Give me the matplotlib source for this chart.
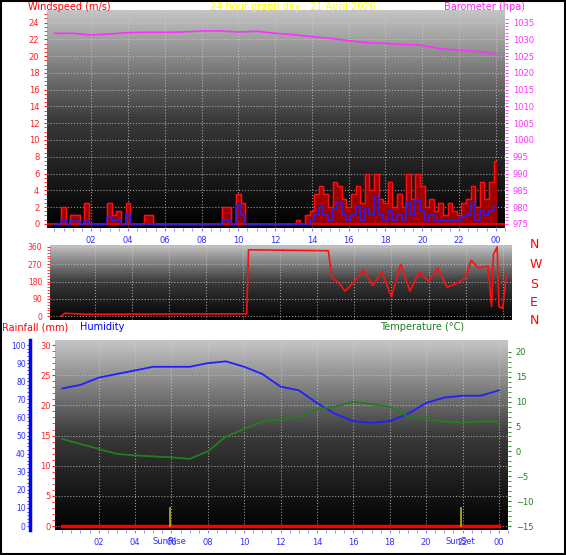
import numpy as np
import matplotlib
matplotlib.use("Agg")
import matplotlib.pyplot as plt
from matplotlib.colors import LinearSegmentedColormap

W, H = 566, 555
# ---------------- data ----------------
wind_t = [i * 0.25 for i in range(97)]
wind_speed = [0, 0, 2, 0, 1, 1, 0, 2.5, 0, 0, 0, 0, 2.5, 1, 1.5, 0, 2.5, 0, 0, 0, 1, 1, 0, 0,
              0, 0, 0, 0, 0, 0, 0, 0, 0, 0, 0, 0, 0, 2, 2, 0, 3.5, 2.5, 0, 0, 0, 0, 0, 0,
              0, 0, 0, 0, 0, 0.5, 0, 1, 1.5, 3.5, 4.5, 3.5, 2, 5, 4.5, 3, 2, 3.5, 4.5, 2.5, 6, 4, 6, 3,
              2.5, 5, 2, 3.5, 2, 6, 3, 6, 4.5, 2, 3, 1.5, 2.5, 1, 2.5, 1.5, 1, 2.5, 3, 4.5, 2, 5, 3, 5, 7.5]
wind_avg = [0, 0, 0.5, 0, 0.3, 0.3, 0, 0.5, 0, 0, 0, 0, 0.8, 0.3, 0.5, 0, 1.2, 0, 0, 0, 0, 0, 0, 0,
            0, 0, 0, 0, 0, 0, 0, 0, 0, 0, 0, 0, 0, 0.5, 0.5, 0, 2.2, 1, 0, 0, 0, 0, 0, 0,
            0, 0, 0, 0, 0, 0, 0, 0, 0.5, 1, 2, 1, 0.5, 1.8, 2.5, 1, 0.5, 1, 2, 0.5, 1.8, 1, 3.2, 1,
            0.5, 1.5, 0.5, 1, 0.5, 2.5, 1, 2.8, 1.5, 0.5, 1, 0.3, 0.5, 0.3, 0.5, 0.3, 0.3, 0.8, 1, 2.5, 0.5, 1.5, 1, 1.5, 2]
hours = list(range(25))
pressure = [1031.8, 1031.8, 1031.3, 1031.6, 1032.0, 1032.1, 1032.1, 1032.2, 1032.5, 1032.5, 1032.2, 1032.4,
            1031.8, 1031.4, 1030.8, 1030.3, 1029.6, 1029.0, 1028.8, 1028.5, 1028.2, 1027.2, 1026.8, 1026.4, 1025.6]
dir_t = [0.2, 0.4, 1.5, 10.2, 10.3, 14.6, 14.8, 15.2, 15.5, 16.0, 16.5, 17.0, 17.5, 18.0, 18.5, 19.0, 19.5,
         20.0, 20.5, 21.0, 21.5, 22.0, 22.3, 22.7, 23.2, 23.4, 23.5, 23.7, 23.8, 24.0, 24.2]
direction = [0, 15, 10, 12, 345, 340, 200, 170, 130, 180, 240, 160, 230, 100, 270, 130, 230,
             180, 250, 150, 170, 200, 290, 250, 260, 50, 320, 360, 50, 40, 220]
humidity = [76, 78, 82, 84, 86, 88, 88, 88, 90, 91, 88, 84, 77, 75, 68, 62, 58, 57, 58, 62, 68, 71, 72, 72, 75]
temperature = [2.5, 1.5, 0.5, -0.5, -0.8, -1.0, -1.2, -1.5, 0.0, 3.0, 4.5, 6.0, 6.5, 7.0, 8.5, 9.0, 10.0,
               9.5, 9.0, 7.0, 6.5, 6.0, 5.8, 6.0, 6.0]
rain = [0] * 25
hour_labels = ["02", "04", "06", "08", "10", "12", "14", "16", "18", "20", "22", "00"]
sunrise, sunset = 5.9, 21.9

# ---------------- helpers ----------------
fig = plt.figure(figsize=(W / 100, H / 100), dpi=100)
fig.patch.set_facecolor("white")
cmap = LinearSegmentedColormap.from_list("g", ["#000000", "#3a3a3a", "#c4c4c4"])

def box(x0, y0, x1, y1):
    return fig.add_axes([x0 / W, 1 - y1 / H, (x1 - x0) / W, (y1 - y0) / H])

def bg(ax):
    ax.imshow(np.linspace(0, 1, 100)[:, None], extent=(0, 1, 0, 1), transform=ax.transAxes,
              cmap=cmap, aspect="auto", origin="lower", zorder=0)
    ax.grid(True, color="#d0d0d0", linestyle=":", linewidth=0.8, alpha=0.7)
    for s in ax.spines.values():
        s.set_visible(False)

def style_x(ax, show, color="#3030ff"):
    ax.set_xticks(range(2, 25, 2))
    ax.set_xticks(np.arange(0, 24.6, 0.5), minor=True)
    if show:
        ax.set_xticklabels(hour_labels, fontsize=6, color=color)
    else:
        ax.set_xticklabels([])
    ax.tick_params(axis="x", length=2, color="#8080ff", which="both")

# frame
fig.add_artist(plt.Rectangle((0.002, 0.002), 0.996, 0.996, transform=fig.transFigure,
                             fill=False, edgecolor="black", linewidth=1.5))

# ---------------- top panel ----------------
ax1 = box(47, 10, 505, 228)
bg(ax1)
ax1.fill_between(wind_t, wind_speed, step="mid", color="#b00000", alpha=0.9, zorder=2)
ax1.step(wind_t, wind_speed, where="mid", color="#ff1010", linewidth=1, zorder=3)
ax1.step(wind_t, wind_avg, where="mid", color="#2020ff", linewidth=1.2, zorder=4)
ax1.axhline(0, color="#e00000", linewidth=1.5, zorder=3)
ax1.set_xlim(-0.4, 24.1)
ax1.set_ylim(-0.5, 25.5)
ax1.set_yticks(range(0, 25, 2))
ax1.set_yticks(np.arange(0, 25.5, 0.5), minor=True)
ax1.tick_params(axis="y", labelsize=6, colors="#ff2020", length=2, which="both")
style_x(ax1, True)
ax1b = ax1.twinx()
ax1b.set_ylim(975 - 1.25, 975 + 25.5 / 0.4)
ax1b.plot(hours, pressure, color="#ff30ff", linewidth=1.2, zorder=5)
ax1b.set_yticks(range(975, 1036, 5))
ax1b.set_yticks(np.arange(975, 1037, 1), minor=True)
ax1b.tick_params(axis="y", labelsize=6, colors="#ff30ff", length=2, which="both")
for s in ax1b.spines.values():
    s.set_visible(False)
fig.text(28 / W, 1 - 7 / H, "Windspeed (m/s)", color="red", fontsize=7, va="center")
fig.text(210 / W, 1 - 7 / H, "24 hour graph day : 21 April 2026", color="yellow", fontsize=7, va="center")
fig.text(525 / W, 1 - 7 / H, "Barometer (hpa)", color="#ff20ff", fontsize=7, va="center", ha="right")

# ---------------- middle panel ----------------
ax2 = box(50, 245, 512, 320)
bg(ax2)
ax2.plot(dir_t, direction, color="#ff1010", linewidth=1.2, zorder=3)
ax2.set_xlim(-0.4, 24.2)
ax2.set_ylim(-20, 370)
ax2.set_yticks([0, 90, 180, 270, 360])
ax2.set_yticks(range(0, 361, 15), minor=True)
ax2.tick_params(axis="y", labelsize=5.5, colors="#ff2020", length=2, which="both")
style_x(ax2, False)
ax2.tick_params(axis="x", length=0, which="both")
for lab, yy in zip(["N", "W", "S", "E", "N"], [245, 265, 284, 302, 320]):
    fig.text(530 / W, 1 - yy / H, lab, color="red", fontsize=9, va="center")

# ---------------- bottom panel ----------------
ax3 = box(55, 340, 508, 530)
bg(ax3)
ax3.set_xlim(-0.4, 24.1)
ax3.set_ylim(-2.2 * 0.3, 102.8 * 0.3)
ax3.plot(hours, rain, color="red", linewidth=2.5, zorder=4)
ax3.set_yticks(range(0, 31, 5))
ax3.set_yticks(np.arange(0, 30.1, 1), minor=True)
ax3.tick_params(axis="y", labelsize=6, colors="#ff2020", length=2, which="both", pad=1)
style_x(ax3, True)
for t in (sunrise, sunset):
    ax3.plot([t, t], [0, 3], color="#c0b020", linewidth=1.2, zorder=5)
ax3.text(sunrise, -0.035, "SunRise", transform=ax3.get_xaxis_transform(), color="#3030ff",
         fontsize=6, ha="center", va="top")
ax3.text(sunset, -0.035, "SunSet", transform=ax3.get_xaxis_transform(), color="#3030ff",
         fontsize=6, ha="center", va="top")

axh = ax3.twinx()
axh.set_ylim(-2.2, 102.8)
axh.plot(hours, humidity, color="#2020ff", linewidth=1.3, zorder=5)
axh.yaxis.set_ticks_position("left")
axh.yaxis.set_label_position("left")
axh.spines["left"].set_position(("outward", 18))
axh.spines["left"].set_color("blue")
axh.spines["left"].set_linewidth(2.5)
for k in ("right", "top", "bottom"):
    axh.spines[k].set_visible(False)
axh.set_yticks(range(0, 101, 10))
axh.set_yticks(range(0, 101, 2), minor=True)
axh.tick_params(axis="y", labelsize=5.5, colors="#3030ff", length=2, which="both", pad=1)

axt = ax3.twinx()
axt.set_ylim(-15.8, 22.4)
axt.plot(hours, temperature, color="#208020", linewidth=1.3, zorder=5)
for s in axt.spines.values():
    s.set_visible(False)
axt.set_yticks(range(-15, 21, 5))
axt.set_yticks(range(-15, 21, 1), minor=True)
axt.tick_params(axis="y", labelsize=6, colors="#208020", length=2, which="both")

fig.text(2 / W, 1 - 327 / H, "Rainfall (mm)", color="red", fontsize=7, va="center")
fig.text(80 / W, 1 - 327 / H, "Humidity", color="blue", fontsize=7, va="center")
fig.text(380 / W, 1 - 327 / H, "Temperature (°C)", color="#208020", fontsize=7, va="center")

fig.savefig("out.png", dpi=100)
